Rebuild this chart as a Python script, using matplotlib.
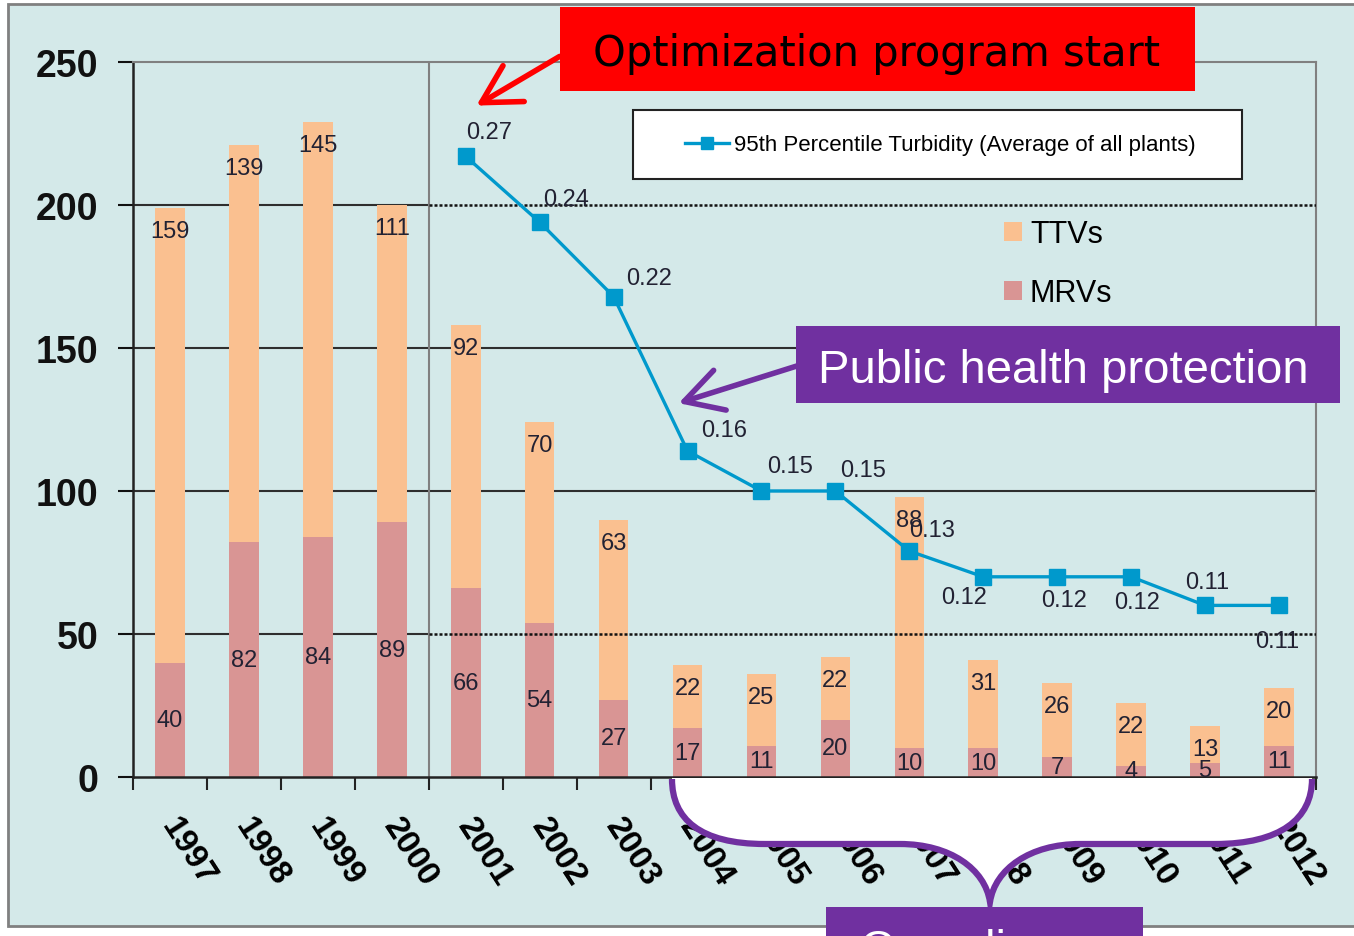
import numpy as np
import matplotlib.pyplot as plt
import matplotlib.transforms as mtransforms
from matplotlib.patches import Rectangle, FancyArrowPatch, PathPatch, Patch
from matplotlib.path import Path
from matplotlib.lines import Line2D

# data
years = [str(y) for y in range(1997, 2013)]
mrvs = [40, 82, 84, 89, 66, 54, 27, 17, 11, 20, 10, 10, 7, 4, 5, 11]
ttvs = [159, 139, 145, 111, 92, 70, 63, 22, 25, 22, 88, 31, 26, 22, 13, 20]
turb_start = 4  # turbidity series starts at 2001
turbidity = [0.267, 0.244, 0.218, 0.164, 0.150, 0.150, 0.129,
             0.120, 0.120, 0.120, 0.110, 0.110]
# where each turbidity label sits relative to its marker (px, y up)
turb_offsets = [(23, 24), (26, 23), (35, 19), (37, 21), (29, 25), (28, 21),
                (23, 21), (-19, -20), (7, -23), (6, -25), (2, 23), (-2, -36)]

W, H = 1354, 937
bg = '#d4e9e9'
ttv_c = '#fac090'
mrv_c = '#d99594'
line_c = '#0099cc'
purple = '#7030a0'
narrow = ['Liberation Sans Narrow', 'Liberation Sans', 'DejaVu Sans']
arial = ['Liberation Sans', 'DejaVu Sans']

fig = plt.figure(figsize=(W / 100, H / 100), dpi=100)
fig.patch.set_facecolor('white')
px = mtransforms.Affine2D().scale(1 / W, -1 / H).translate(0, 1) + fig.transFigure

# outer frame of the slide picture
fig.add_artist(Rectangle((8, 5), 1400, 922, transform=px, facecolor=bg,
                         edgecolor='#808080', lw=2, zorder=0))

ax = fig.add_axes([133 / W, 1 - 778 / H, (1316 - 133) / W, (778 - 63) / H])
ax.set_facecolor(bg)
x = np.arange(len(years))
tops = np.array(mrvs) + np.array(ttvs)

ax.bar(x, mrvs, 0.4, color=mrv_c, zorder=2)
ax.bar(x, ttvs, 0.4, bottom=mrvs, color=ttv_c, zorder=2)
ax.set_xlim(-0.5, len(years) - 0.5)
ax.set_ylim(0, 250)

gc = '#2e2e2e'
for y in (100, 150):
    ax.axhline(y, color=gc, lw=1.5, zorder=1)
for y in (50, 200):
    ax.plot([-0.5, turb_start - 0.5], [y, y], color=gc, lw=1.5, zorder=1)
    ax.plot([turb_start - 0.5, len(years) - 0.5], [y, y], color='#111111',
            lw=1.8, ls=(0, (1.2, 0.8)), zorder=4)
ax.axvline(turb_start - 0.5, color='#808080', lw=1.5, zorder=1)

for i in x:
    ax.annotate(str(ttvs[i]), (i, tops[i]), xytext=(0, -23 * 0.72),
                textcoords='offset points', ha='center', va='center',
                fontsize=17, color='#222233', family=arial, zorder=5)
    ax.text(i, mrvs[i] / 2, str(mrvs[i]), ha='center', va='center',
            fontsize=17, color='#222233', family=arial, zorder=5)

for s in ('top', 'right'):
    ax.spines[s].set_color('#808080')
    ax.spines[s].set_linewidth(1.5)
for s in ('left', 'bottom'):
    ax.spines[s].set_color('#222222')
    ax.spines[s].set_linewidth(1.8)

ax.set_yticks(range(0, 251, 50))
ax.tick_params(axis='y', direction='out', length=11, width=1.5, pad=14,
               labelsize=27, colors='#111111')
for lab in ax.get_yticklabels():
    lab.set_family(narrow)
    lab.set_weight('bold')

ax.set_xticks(np.arange(-0.5, len(years), 1))
ax.set_xticklabels([])
ax.tick_params(axis='x', which='major', direction='out', length=9, width=1.5,
               color='#222222')
ax.set_xticks(x - 0.2, minor=True)
ax.set_xticklabels(years, minor=True, rotation=-57, ha='left', va='top')
ax.tick_params(axis='x', which='minor', length=0, pad=25, labelsize=24)
for lab in ax.get_xticklabels(minor=True):
    lab.set_family(narrow)
    lab.set_weight('bold')

ax2 = ax.twinx()
ax2.set_ylim(0.05, 0.30)
ax2.axis('off')
tx = x[turb_start:]
ax2.plot(tx, turbidity, color=line_c, lw=2.4, marker='s', ms=12, zorder=3)
for xi, t, (dx, dy) in zip(tx, turbidity, turb_offsets):
    ax2.annotate(f'{t:.2f}', (xi, t), xytext=(dx * 0.72, dy * 0.72),
                 textcoords='offset points', ha='center', va='center',
                 fontsize=17, color='#222233', family=arial)

# legends
fig.add_artist(Rectangle((633, 111), 609, 69, transform=px, facecolor='white',
                         edgecolor='#222222', lw=1.5, zorder=4.5))
leg1 = fig.legend(handles=[Line2D([], [], color=line_c, lw=2.4, marker='s', ms=9)],
                  labels=['95th Percentile Turbidity (Average of all plants)'],
                  loc='center', bbox_to_anchor=(940 / W, 1 - 146 / H),
                  frameon=False, handlelength=2.0, handletextpad=0.2,
                  prop={'family': narrow, 'size': 16})
leg1.set_zorder(6)
leg2 = fig.legend(handles=[Patch(facecolor=ttv_c), Patch(facecolor=mrv_c)],
                  labels=['TTVs', 'MRVs'], loc='upper left',
                  bbox_to_anchor=(1004 / W, 1 - 220 / H), frameon=False,
                  handlelength=0.6, handleheight=0.6, handletextpad=0.25,
                  labelspacing=0.95, borderpad=0, borderaxespad=0,
                  prop={'family': arial, 'size': 22})

# callouts
fig.add_artist(Rectangle((560, 8), 635, 84, transform=px, facecolor='#ff0000',
                         edgecolor='none', zorder=7))
fig.text(877 / W, 1 - 66 / H, 'Optimization program start', ha='center',
         va='baseline', fontsize=30, family='DejaVu Sans', color='black', zorder=8)
fig.add_artist(FancyArrowPatch((562, 56), (474, 108), transform=px,
                               arrowstyle='->,head_length=0.9,head_width=0.5',
                               mutation_scale=30, color='#ff0000', lw=4, zorder=7))

fig.add_artist(Rectangle((796, 327), 544, 77, transform=px, facecolor=purple,
                         edgecolor='none', zorder=7))
fig.text(1063 / W, 1 - 383 / H, 'Public health protection', ha='center',
         va='baseline', fontsize=34, family=arial, color='white', zorder=8)
fig.add_artist(FancyArrowPatch((800, 366), (676, 405), transform=px,
                               arrowstyle='->,head_length=0.9,head_width=0.5',
                               mutation_scale=30, color=purple, lw=4, zorder=7))

# curly brace under 2004-2012
brace = [(672, 780), (672, 820), (700, 845), (765, 845),
         (900, 845),
         (950, 845), (985, 870), (990, 903),
         (995, 870), (1030, 845), (1080, 845),
         (1215, 845),
         (1280, 845), (1312, 820), (1312, 780)]
codes = [Path.MOVETO, Path.CURVE4, Path.CURVE4, Path.CURVE4, Path.LINETO,
         Path.CURVE4, Path.CURVE4, Path.CURVE4, Path.CURVE4, Path.CURVE4,
         Path.CURVE4, Path.LINETO, Path.CURVE4, Path.CURVE4, Path.CURVE4]
fill = Path(brace + [(1312, 779), (672, 779), (672, 780)],
            codes + [Path.LINETO, Path.LINETO, Path.CLOSEPOLY])
fig.add_artist(PathPatch(fill, transform=px, facecolor='white',
                         edgecolor='none', zorder=6))
fig.add_artist(PathPatch(Path(brace, codes), transform=px, facecolor='none',
                         edgecolor=purple, lw=4.5, zorder=6.5))

fig.add_artist(Rectangle((826, 908), 317, 80, transform=px, facecolor=purple,
                         edgecolor='none', zorder=7))
fig.text(984 / W, 1 - 963 / H, 'Compliance', ha='center', va='baseline',
         fontsize=34, family=arial, color='white', zorder=8)

fig.savefig('out.png', dpi=100, facecolor=fig.get_facecolor())
